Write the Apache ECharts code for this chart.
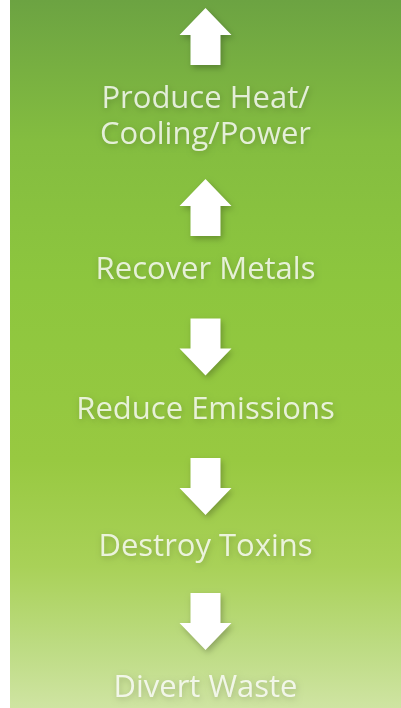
<!DOCTYPE html>
<html><head><meta charset="utf-8">
<script src="https://cdn.jsdelivr.net/npm/echarts@6/dist/echarts.min.js"></script>
<style>html,body{margin:0;padding:0;background:#fff}#c{width:401px;height:708px}</style>
</head><body><div id="c"></div>
<script>
const labels = ['Produce Heat/\nCooling/Power', 'Recover Metals', 'Reduce Emissions', 'Destroy Toxins', 'Divert Waste'];
const directions = ['up', 'up', 'down', 'down', 'down'];
const arrowPos = [36.5, 207.5, 347, 486.5, 621.5];
const labelPos = [117, 270, 410, 547, 688];

const arrowPath = 'path://M26,0 L52,27 L41,27 L41,57 L11,57 L11,27 L0,27 Z';
const chart = echarts.init(document.getElementById('c'), null, {renderer: 'canvas'});
chart.setOption({
  animation: false,
  backgroundColor: '#ffffff',
  grid: {
    left: 10, right: 0, top: 0, bottom: 0, show: true, borderWidth: 0,
    backgroundColor: new echarts.graphic.LinearGradient(0, 0, 0, 1, [
      {offset: 0, color: '#6ca342'},
      {offset: 0.2, color: '#84bd40'},
      {offset: 0.4, color: '#8dc63e'},
      {offset: 0.65, color: '#98c941'},
      {offset: 0.8, color: '#a9d158'},
      {offset: 0.92, color: '#bedc85'},
      {offset: 1, color: '#cfe4a2'}
    ])
  },
  xAxis: {type: 'value', min: 0, max: 1, show: false},
  yAxis: {type: 'value', min: 0, max: 708, inverse: true, show: false},
  series: [
    {
      type: 'scatter',
      symbol: arrowPath,
      symbolSize: [52, 57],
      itemStyle: {color: '#ffffff', opacity: 1, shadowBlur: 6, shadowColor: 'rgba(0,0,0,0.25)', shadowOffsetX: 2, shadowOffsetY: 3},
      data: arrowPos.map((y, i) => ({value: [0.5, y], symbolRotate: directions[i] === 'up' ? 0 : 180})),
      silent: true
    },
    {
      type: 'scatter',
      symbolSize: 0,
      data: labelPos.map((y, i) => ({value: [0.5, y], name: labels[i]})),
      label: {
        show: true, position: 'inside', formatter: p => p.name,
        color: '#ffffff', fontFamily: 'Open Sans', fontSize: 31, lineHeight: 36, align: 'center',
        textShadowColor: 'rgba(0,0,0,0.25)', textShadowBlur: 6, textShadowOffsetX: 1, textShadowOffsetY: 2
      },
      silent: true
    }
  ]
});
</script></body></html>
